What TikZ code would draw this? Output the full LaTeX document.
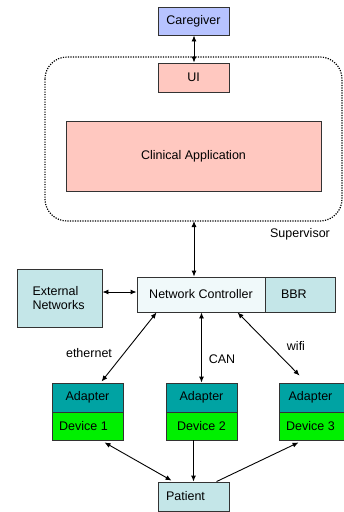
\documentclass[tikz,border=0pt]{standalone}
\usepackage{fontspec}
\setmainfont{Liberation Sans}
\usetikzlibrary{arrows.meta}
\definecolor{cgblue}{RGB}{183,195,255}
\definecolor{salmon}{RGB}{255,200,192}
\definecolor{ncfill}{RGB}{240,249,250}
\definecolor{paleteal}{RGB}{196,230,232}
\definecolor{adteal}{RGB}{0,163,163}
\definecolor{devgreen}{RGB}{0,240,0}
\tikzset{
  box/.style={draw=black!80, line width=0.9pt, inner sep=0pt, font=\fontsize{12.5}{14}\selectfont},
  link/.style={line width=0.9pt, {Latex[length=6pt,width=5pt]}-{Latex[length=6pt,width=5pt]}},
  onelink/.style={line width=0.9pt, -{Latex[length=6pt,width=5pt]}},
  lbl/.style={font=\fontsize{12.5}{14}\selectfont, inner sep=0pt}
}
\begin{document}
\begin{tikzpicture}[x=1pt,y=-1pt]
\useasboundingbox (0,0) rectangle (344,512);

% supervisor boundary
\draw[line width=1.2pt, dash pattern=on 1.2pt off 1.3pt, rounded corners=22pt] (45,57) rectangle (342,221);
\node[lbl] (sup) at (300,234) {Supervisor};

% top boxes
\node[box, fill=cgblue, minimum width=71pt, minimum height=28pt] (care) at (193.5,21) {Caregiver};
\node[box, fill=salmon, minimum width=71pt, minimum height=29pt] (ui) at (193.5,77.5) {UI};
\node[box, fill=salmon, minimum width=255pt, minimum height=70pt] (clin) at (193.5,156) {Clinical Application};

% network layer
\node[box, fill=ncfill, minimum width=128pt, minimum height=35pt] (nc) at (201,294.5) {Network Controller};
\node[box, fill=paleteal, minimum width=70pt, minimum height=35pt, text width=38pt, align=left] (bbr) at (300,294.5) {BBR};
\node[box, fill=paleteal, minimum width=85pt, minimum height=58pt, text width=54pt, align=left] (ext) at (59.5,298) {External\\Networks};
\coordinate (supbot) at (194,221);

% adapters and devices
\node[box, fill=adteal, minimum width=71pt, minimum height=29pt] (ad1) at (87.5,397.5) {Adapter};
\node[box, fill=devgreen, minimum width=71pt, minimum height=28pt] (dev1) at (87.5,426) {\hspace*{-8pt}Device 1};
\node[box, fill=adteal, minimum width=71pt, minimum height=29pt] (ad2) at (201.5,397.5) {Adapter};
\node[box, fill=devgreen, minimum width=71pt, minimum height=28pt] (dev2) at (201.5,426) {Device 2};
\node[box, fill=adteal, minimum width=71pt, minimum height=29pt] (ad3) at (314.5,397.5) {\hspace*{-8pt}Adapter};
\node[box, fill=devgreen, minimum width=71pt, minimum height=28pt] (dev3) at (314.5,426) {\hspace*{-8pt}Device 3};

\node[box, fill=paleteal, minimum width=71pt, minimum height=29pt] (pat) at (193.5,496.5) {\hspace*{-16pt}Patient};

% connectors
\draw[link] (care.south -| 194,0) -- (ui.north -| 194,0);
\draw[link] (supbot) -- (nc.north -| supbot);
\draw[link] (ext.east |- 0,292) -- (nc.west |- 0,292);
\draw[link] ([xshift=20pt]nc.south west) -- ([xshift=50pt,yshift=1pt]ad1.north west);
\draw[link] (nc.south -| ad2.north) -- (ad2.north);
\draw[link] ([xshift=101pt]nc.south west) -- ([xshift=21pt,yshift=7pt]ad3.north west);
\draw[link] ([xshift=53pt,yshift=-2pt]dev1.south west) -- ([xshift=14pt,yshift=1pt]pat.north west);
\draw[onelink] (dev2.south -| pat.north) -- (pat.north);
\draw[onelink] ([xshift=59pt]pat.north west) -- ([xshift=20pt,yshift=-2pt]dev3.south west);

% link labels
\node[lbl] (leth) at (89,353) {ethernet};
\node[lbl] (lcan) at (222,359) {CAN};
\node[lbl] (lwifi) at (296,346) {wifi};
\end{tikzpicture}
\end{document}
